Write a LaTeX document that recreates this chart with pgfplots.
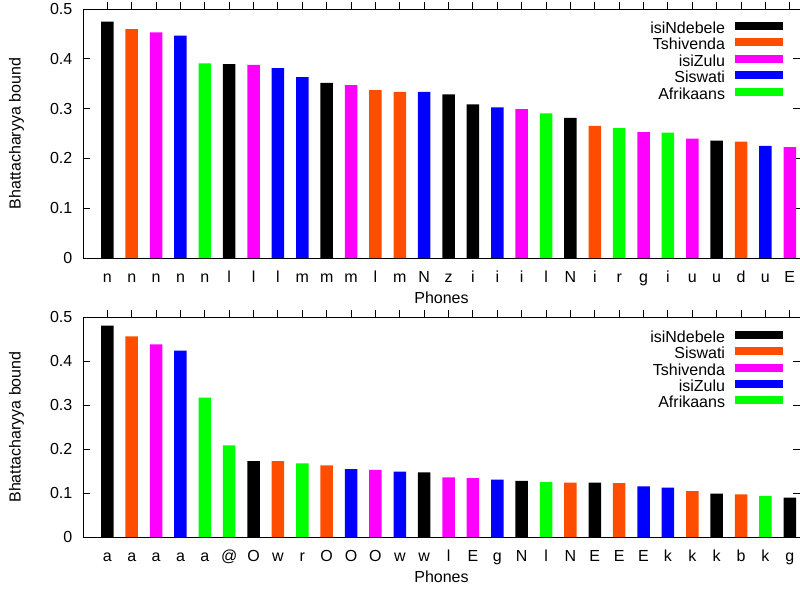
\documentclass[border=0pt]{standalone}
\usepackage{fontspec}
\setmainfont{Liberation Sans}
\usepackage{pgfplots}
\pgfplotsset{compat=1.18}
\definecolor{cblack}{RGB}{0,0,0}
\definecolor{corange}{RGB}{255,77,0}
\definecolor{cmagenta}{RGB}{255,0,255}
\definecolor{cblue}{RGB}{0,0,255}
\definecolor{cgreen}{RGB}{0,255,0}
\pgfplotsset{
  swatch/.style={legend image code/.code={\fill[##1] (0pt,0pt) rectangle (48pt,8pt);}},
  bh/.style={
    scale only axis, width=717pt,
    anchor=south west,
    xmin=0, xmax=29.42, ymin=0, ymax=0.5,
    xtick={1,...,29},
    ytick={0,0.1,0.2,0.3,0.4,0.5},
    yticklabels={0,0.1,0.2,0.3,0.4,0.5},
    xtick pos=upper, xticklabel pos=lower,
    ytick pos=both, yticklabel pos=lower,
    tick align=inside, major tick length=7pt,
    axis line style={line width=1pt},
    every tick/.style={black, line width=1pt},
    yticklabel style={anchor=east, inner sep=0pt, xshift=-10.5pt},
    xticklabel style={anchor=base, inner sep=0pt, yshift=-17.5pt},
    xlabel={Phones}, ylabel={Bhattacharyya bound},
    xlabel style={at={(axis description cs:0.5,0)}, anchor=center, yshift=-40pt},
    ylabel style={at={(axis description cs:-0.0927,0.5)}, anchor=center, rotate=0},
    ybar, bar width=12.5pt, bar shift=0pt,
    legend plot pos=right,
    legend cell align=right,
    legend style={anchor=north east, draw=none, fill=none, inner sep=0pt, outer sep=0pt,
      row sep=0pt,
      nodes={inner sep=0pt, text height=11.7pt, text depth=4.7pt},
      /tikz/every odd column/.style={column sep=10pt}},
  }
}
\begin{document}
\fontsize{16}{19}\selectfont
\begin{tikzpicture}
\useasboundingbox (0,0) rectangle (800pt,590pt);
\begin{axis}[bh, height=249pt, at={(83pt,332pt)},
  xticklabels={n,n,n,n,n,l,l,l,m,m,m,l,m,N,z,i,i,i,l,N,i,r,g,i,u,u,d,u,E},
  legend style={at={(0.9763,0.9486)}}]
\addplot[fill=cblack, draw=none, swatch] coordinates {(1,0.4745) (6,0.3894) (10,0.3519) (15,0.3284) (16,0.3083) (20,0.2815) (26,0.2359)};
\addlegendentry{isiNdebele}
\addplot[fill=corange, draw=none, swatch] coordinates {(2,0.4598) (12,0.3371) (13,0.3338) (21,0.2654) (27,0.2339)};
\addlegendentry{Tshivenda}
\addplot[fill=cmagenta, draw=none, swatch] coordinates {(3,0.4531) (7,0.3880) (11,0.3472) (18,0.2989) (23,0.2527) (25,0.2399) (29,0.2225)};
\addlegendentry{isiZulu}
\addplot[fill=cblue, draw=none, swatch] coordinates {(4,0.4464) (8,0.3814) (9,0.3633) (14,0.3338) (17,0.3023) (28,0.2252)};
\addlegendentry{Siswati}
\addplot[fill=cgreen, draw=none, swatch] coordinates {(5,0.3908) (19,0.2902) (22,0.2607) (24,0.2520)};
\addlegendentry{Afrikaans}
\end{axis}
\begin{axis}[bh, height=220pt, at={(83pt,53pt)},
  xticklabels={a,a,a,a,a,@,O,w,r,O,O,O,w,w,l,E,g,N,l,N,E,E,E,k,k,k,b,k,g},
  legend style={at={(0.9763,0.9386)}}]
\addplot[fill=cblack, draw=none, swatch] coordinates {(1,0.4803) (7,0.1727) (14,0.1470) (18,0.1273) (21,0.1235) (26,0.0985) (29,0.0894)};
\addlegendentry{isiNdebele}
\addplot[fill=corange, draw=none, swatch] coordinates {(2,0.4560) (8,0.1727) (10,0.1629) (20,0.1235) (22,0.1227) (25,0.1045) (27,0.0970)};
\addlegendentry{Siswati}
\addplot[fill=cmagenta, draw=none, swatch] coordinates {(3,0.4379) (12,0.1523) (15,0.1356) (16,0.1341)};
\addlegendentry{Tshivenda}
\addplot[fill=cblue, draw=none, swatch] coordinates {(4,0.4235) (11,0.1545) (13,0.1485) (17,0.1303) (23,0.1152) (24,0.1121)};
\addlegendentry{isiZulu}
\addplot[fill=cgreen, draw=none, swatch] coordinates {(5,0.3167) (6,0.2083) (9,0.1674) (19,0.1250) (28,0.0932)};
\addlegendentry{Afrikaans}
\end{axis}
\end{tikzpicture}
\end{document}
